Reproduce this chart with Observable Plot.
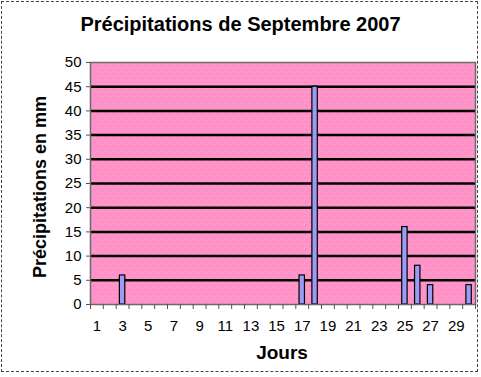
<!DOCTYPE html>
<html><head><meta charset="utf-8">
<script src="https://cdn.jsdelivr.net/npm/d3@7"></script>
<script src="https://cdn.jsdelivr.net/npm/@observablehq/plot@0.6"></script>
<style>
body{margin:0;background:#fff;}
#wrap{position:relative;width:481px;height:377px;font-family:Arial,"Liberation Sans",sans-serif;}
#border{position:absolute;left:1px;top:1px;width:477px;height:371px;border:1px dashed #444;box-sizing:border-box;pointer-events:none;}
#title{position:absolute;left:0;top:13px;width:481px;text-align:center;font-weight:bold;font-size:20px;color:#000;}
#ylab{position:absolute;left:40px;top:187px;transform:translate(-50%,-50%) rotate(-90deg);white-space:nowrap;font-weight:bold;font-size:18px;}
#xlab{position:absolute;left:282px;top:342px;transform:translateX(-50%);font-weight:bold;font-size:19px;}
svg{position:absolute;left:0;top:0;}
</style></head><body>
<div id="wrap">
<div id="chart"></div>
<div id="title">Précipitations de Septembre 2007</div>
<div id="ylab">Précipitations en mm</div>
<div id="xlab">Jours</div>
<div id="border"></div>
</div>
<script>
const days = [3, 17, 18, 25, 26, 27, 30];
const rain = [6, 6, 45, 16, 8, 4, 4];
const yTicks = [0, 5, 10, 15, 20, 25, 30, 35, 40, 45, 50];
const gridValues = [5, 10, 15, 20, 25, 30, 35, 40, 45];
const xLabels = [1, 3, 5, 7, 9, 11, 13, 15, 17, 19, 21, 23, 25, 27, 29];
const dayBounds = d3.range(0.5, 31, 1);

const data = days.map((d, i) => ({day: d, mm: rain[i]}));

const plot = Plot.plot({
  width: 481, height: 377,
  marginLeft: 90, marginRight: 6, marginTop: 62, marginBottom: 73,
  style: {fontFamily: "Arial, 'Liberation Sans', sans-serif", fontSize: "15px", color: "#000", background: "transparent"},
  x: {type: "linear", domain: [0.5, 30.5]},
  y: {domain: [0, 50]},
  marks: [
    Plot.frame({fill: "url(#pinkdots)"}),
    Plot.ruleY(gridValues, {stroke: "#000", strokeWidth: 2.5}),
    Plot.rectY(data, {x1: d => d.day - 0.21, x2: d => d.day + 0.21, y: "mm", fill: "#9a9cf5", stroke: "#000", strokeWidth: 1.2}),
    Plot.frame({stroke: "#6a6a6a", strokeWidth: 1.5}),
    Plot.axisY({ticks: yTicks, tickSize: 4, tickPadding: 5, label: null, stroke: "#555", fontSize: 15}),
    Plot.axisX({ticks: dayBounds, tickSize: 5, tickFormat: () => "", label: null, stroke: "#555"}),
    Plot.axisX({ticks: xLabels, tickSize: 0, tickPadding: 16, label: null, fontSize: 15})
  ]
});
const ns = "http://www.w3.org/2000/svg";
const defs = document.createElementNS(ns, "defs");
const pat = document.createElementNS(ns, "pattern");
pat.setAttribute("id", "pinkdots");
pat.setAttribute("patternUnits", "userSpaceOnUse");
pat.setAttribute("width", "8"); pat.setAttribute("height", "8");
const bg = document.createElementNS(ns, "rect");
bg.setAttribute("width", "8"); bg.setAttribute("height", "8"); bg.setAttribute("fill", "#ff94c8");
const d1 = document.createElementNS(ns, "rect");
d1.setAttribute("x", "1"); d1.setAttribute("y", "1"); d1.setAttribute("width", "1"); d1.setAttribute("height", "1"); d1.setAttribute("fill", "#ff66aa");
const d2 = document.createElementNS(ns, "rect");
d2.setAttribute("x", "5"); d2.setAttribute("y", "5"); d2.setAttribute("width", "1"); d2.setAttribute("height", "1"); d2.setAttribute("fill", "#ff66aa");
pat.append(bg, d1, d2); defs.append(pat);
plot.insertBefore(defs, plot.firstChild);
document.getElementById("chart").appendChild(plot);
</script>
</body></html>
